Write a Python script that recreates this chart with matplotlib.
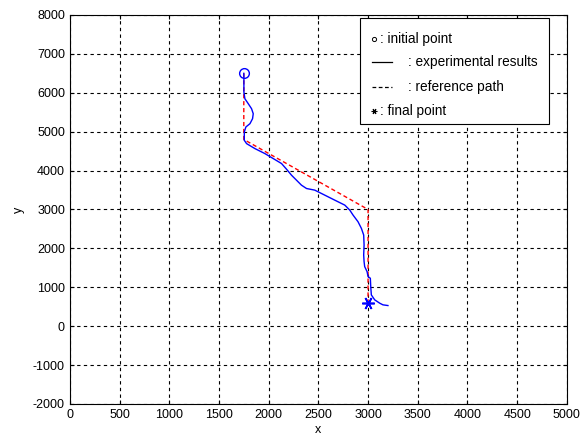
import numpy as np
import matplotlib
matplotlib.use('Agg')
from matplotlib import pyplot as plt
from matplotlib.patches import Rectangle
from matplotlib.lines import Line2D

# reference path (red dashed)
ref_x = [1750, 1750, 3000, 3000]
ref_y = [6500, 4800, 3000, 600]

# experimental results (blue)
exp_x = [1750, 1751, 1751, 1761, 1795, 1828, 1845, 1838, 1812, 1771, 1755, 1755,
         1778, 1862, 1962, 2046, 2130, 2180, 2230, 2280, 2330, 2381, 2464, 2565,
         2665, 2766, 2816, 2849, 2899, 2933, 2956, 2960, 2956, 2960, 2966, 2990,
         3000, 3023, 3027, 3033, 3067, 3117, 3150, 3200]
exp_y = [6500, 6360, 6018, 5847, 5719, 5591, 5462, 5334, 5206, 5121, 4992, 4779,
         4693, 4565, 4437, 4309, 4180, 4035, 3881, 3753, 3625, 3539, 3497, 3368,
         3240, 3112, 2984, 2856, 2685, 2514, 2343, 2086, 1830, 1659, 1531, 1402,
         1274, 1232, 1018, 804, 676, 591, 548, 530]

start = (1750, 6500)
final = (3000, 600)

legend_txt = [': initial point', ': experimental results', ': reference path', ': final point']

plt.rcParams['font.family'] = ['Liberation Sans', 'DejaVu Sans']
plt.rcParams['font.size'] = 9
plt.rcParams['axes.unicode_minus'] = False

fig = plt.figure(figsize=(5.82, 4.41), dpi=100)
ax = fig.add_axes([0.120, 0.084, 0.854, 0.882])

ax.plot(ref_x, ref_y, color='red', ls='--', lw=1, dashes=(3, 2))
ax.plot(exp_x, exp_y, color='blue', lw=1)
ax.plot(*start, marker='o', ms=7, mfc='none', mec='blue', mew=1)
ax.plot(*final, marker=(6, 2, 90), ms=9, color='blue', mew=1.2)

ax.set_xlim(0, 5000)
ax.set_ylim(-2000, 8000)
ax.set_xticks(np.arange(0, 5001, 500))
ax.set_yticks(np.arange(-2000, 8001, 1000))
ax.grid(True, color='black', ls='--', lw=0.8, dashes=(3, 3))
ax.tick_params(direction='in', length=3, top=True, right=True)
ax.set_xlabel('x', labelpad=2)
ax.set_ylabel('y', labelpad=6)
for s in ax.spines.values():
    s.set_linewidth(0.8)

# legend box, drawn by hand
ax.add_patch(Rectangle((0.583, 0.720), 0.381, 0.272, transform=ax.transAxes,
                       fc='white', ec='black', lw=0.8, zorder=5))
ys = [0.938, 0.879, 0.815, 0.753]
tr = ax.transAxes
ax.add_line(Line2D([0.612], [ys[0]], marker='o', ms=3, mfc='none', mec='black',
                   mew=0.7, transform=tr, zorder=6))
ax.add_line(Line2D([0.607, 0.648], [ys[1], ys[1]], color='black', lw=0.9,
                   transform=tr, zorder=6))
ax.add_line(Line2D([0.607, 0.648], [ys[2], ys[2]], color='black', lw=0.9, ls='--',
                   dashes=(3, 2), transform=tr, zorder=6))
ax.add_line(Line2D([0.612], [ys[3]], marker=(6, 2, 90), ms=4, color='black',
                   mew=0.8, transform=tr, zorder=6))
xs = [0.625, 0.680, 0.680, 0.625]
for x, y, t in zip(xs, ys, legend_txt):
    ax.text(x, y, t, transform=tr, va='center', ha='left', zorder=6, fontsize=9.8)

fig.savefig('out.png', dpi=100)
